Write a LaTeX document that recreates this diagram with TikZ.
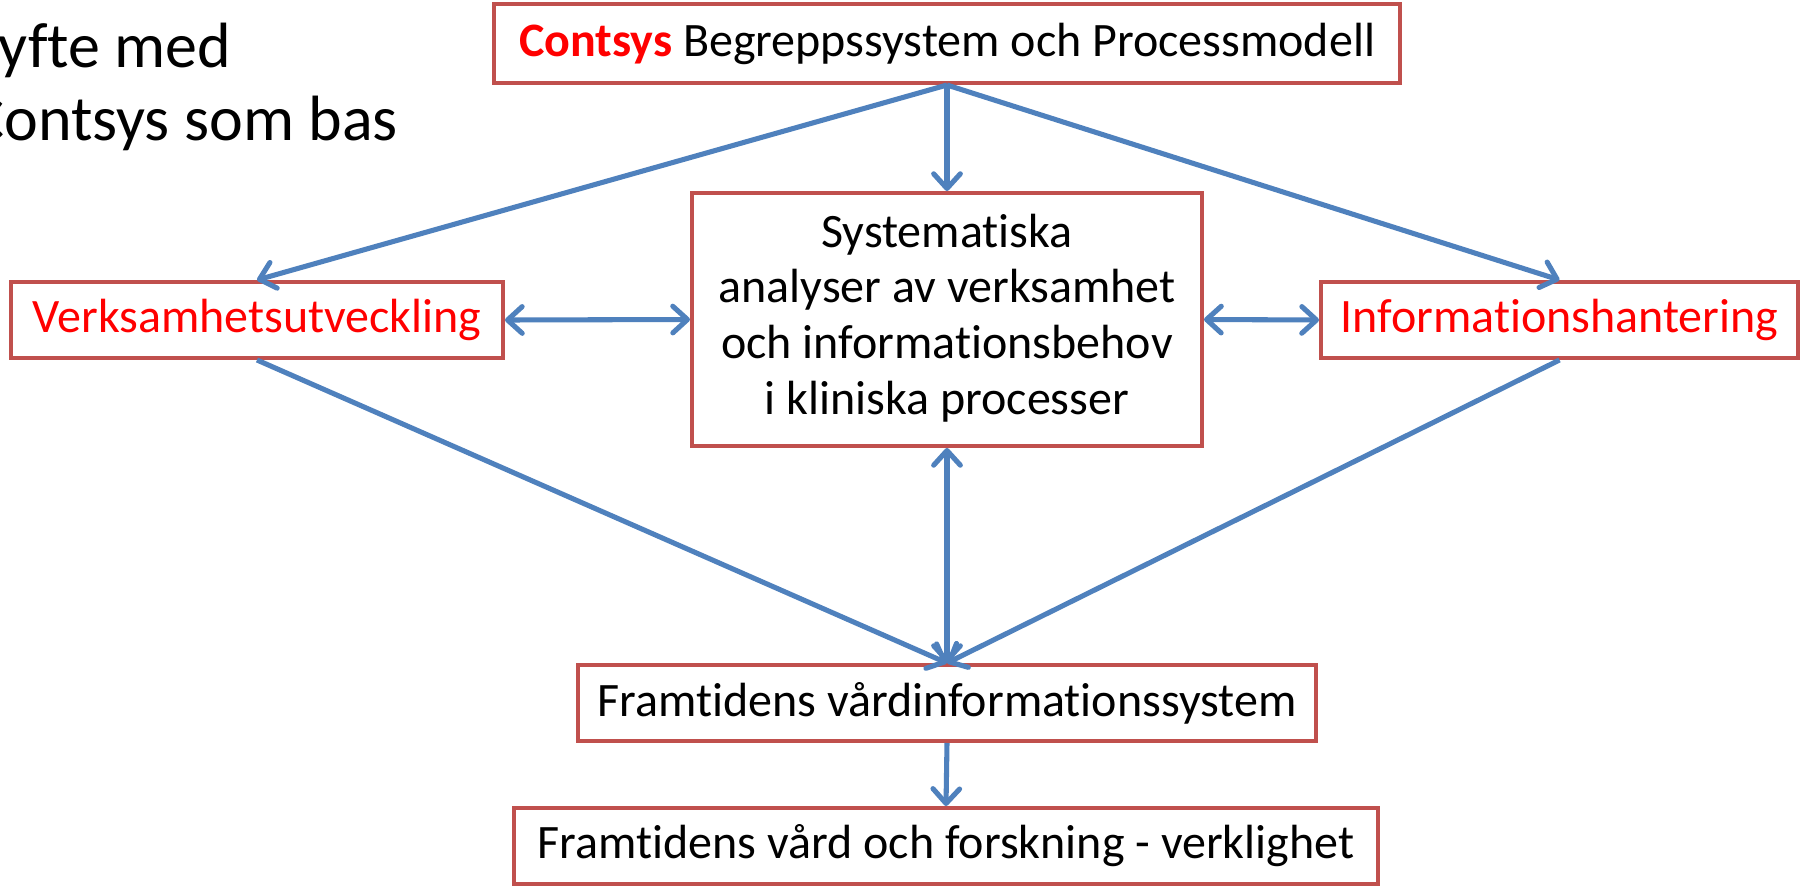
\documentclass[tikz,border=0pt]{standalone}
\usepackage{fontspec}
\setmainfont{Carlito}[Ligatures={NoCommon}]
\usetikzlibrary{arrows.meta}
\definecolor{arrowblue}{HTML}{4F81BD}
\definecolor{boxred}{HTML}{C0504D}
\definecolor{textred}{HTML}{FF0000}
\tikzset{
  px/.style={x=0.75pt,y=-0.75pt},
  box/.style={draw=boxred,line width=3pt,fill=white,inner sep=0pt,
    font=\fontsize{36pt}{41.7pt}\selectfont,align=center},
  conn/.style={draw=arrowblue,line width=3.8pt,
    -{Straight Barb[length=11pt,width=20pt,line cap=round,line join=round]}},
  biconn/.style={draw=arrowblue,line width=3.8pt,
    {Straight Barb[length=11pt,width=20pt,line cap=round,line join=round]}-{Straight Barb[length=11pt,width=20pt,line cap=round,line join=round]}},
  titletext/.style={inner sep=0pt,anchor=base west,font=\fontsize{48pt}{54.75pt}\selectfont}
}
\begin{document}
\begin{tikzpicture}[px]
\useasboundingbox (0,0) rectangle (1804,886);
\clip (0,0) rectangle (1804,886);
\fill[white] (0,0) rectangle (1804,886);

\node[titletext] (t1) at (-30,67) {Syfte med};
\node[titletext] (t2) at (-30,140) {Contsys som bas};

\node[box,minimum width=906*0.75pt,minimum height=79*0.75pt] (top) at (947,43.5)
  {\textcolor{textred}{\textbf{Contsys}} Begreppssystem och Processmodell};
\node[box,minimum width=492*0.75pt,minimum height=76*0.75pt,text=textred] (verks) at (257,320)
  {Verksamhetsutveckling};
\node[box,minimum width=477*0.75pt,minimum height=76*0.75pt,text=textred] (info) at (1559.5,320)
  {Informationshantering};
\node[box,minimum width=510*0.75pt,minimum height=253*0.75pt] (center) at (947,319.5)
  {\raisebox{-3pt}{\begin{tabular}{@{}c@{}}Systematiska\\analyser av verksamhet\\och informationsbehov\\i kliniska processer\end{tabular}}};
\node[box,minimum width=738*0.75pt,minimum height=76*0.75pt] (fv) at (947,703)
  {Framtidens vårdinformationssystem};
\node[box,minimum width=864*0.75pt,minimum height=76*0.75pt] (fvf) at (946,846)
  {Framtidens vård och forskning - verklighet};

\draw[conn] (top.south) -- (verks.north);
\draw[conn] (top.south) -- (center.north);
\draw[conn] (top.south) -- (info.north);
\draw[biconn] (verks.east) -- (center.west);
\draw[biconn] (center.east) -- (info.west);
\draw[conn] (verks.south) -- (fv.north);
\draw[conn] (info.south) -- (fv.north);
\draw[biconn] (center.south) -- (fv.north);
\draw[conn] (fv.south) -- (fvf.north);
\end{tikzpicture}
\end{document}
